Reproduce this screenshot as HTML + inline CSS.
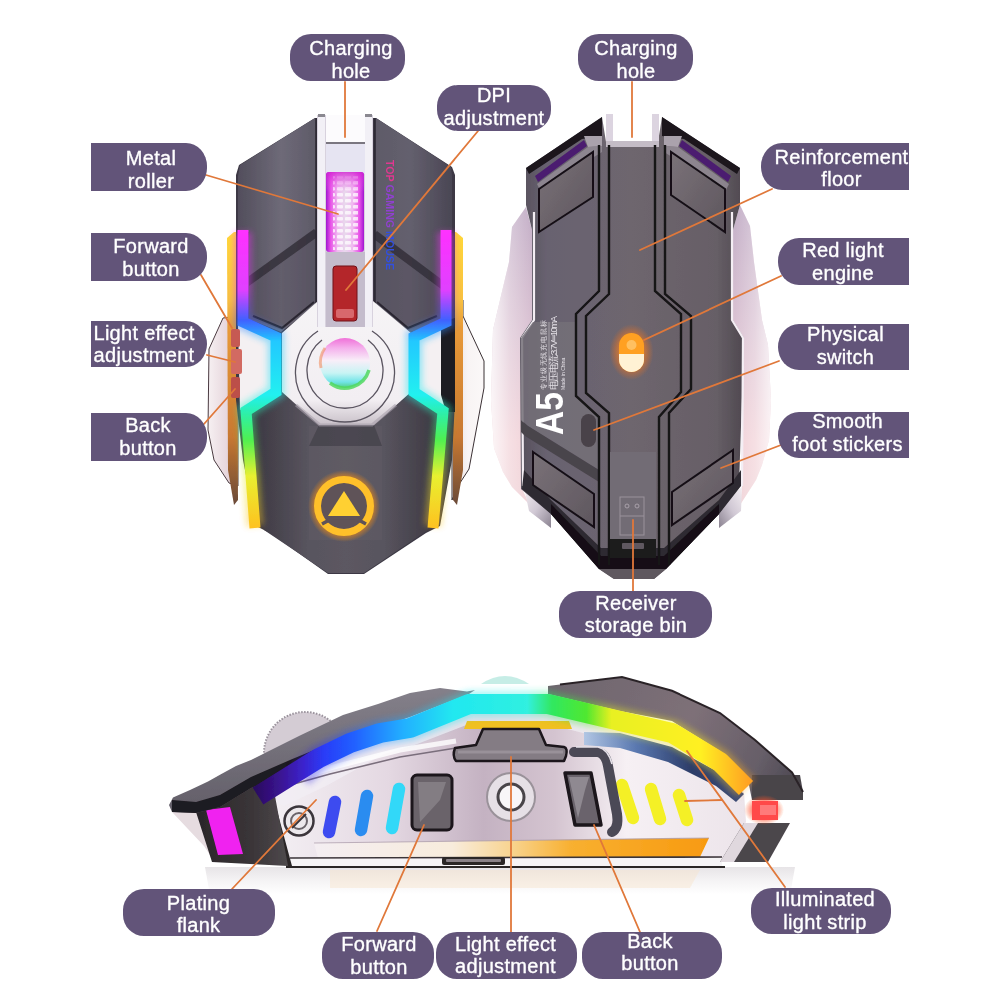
<!DOCTYPE html>
<html><head><meta charset="utf-8">
<style>
html,body{margin:0;padding:0;background:#fff;}
body{width:1001px;height:1001px;position:relative;overflow:hidden;font-family:"Liberation Sans",sans-serif;}
svg{position:absolute;left:0;top:0;}
.lb{position:absolute;background:#625479;}
.tx{position:absolute;width:200px;color:#fff;font-size:20px;line-height:22.5px;text-align:center;white-space:nowrap;letter-spacing:0.3px;-webkit-text-stroke:0.35px #fff;}
.pill{border-radius:21px;}
.rr{border-radius:0 21px 21px 0/0 23px 23px 0;}
.rl{border-radius:21px 0 0 21px/23px 0 0 23px;}
</style></head><body>
<svg width="1001" height="1001" viewBox="0 0 1001 1001">
<!--MICE-->
<defs><filter id="soft" x="-5%" y="-5%" width="110%" height="110%"><feGaussianBlur stdDeviation="0.45"/></filter></defs>
<g filter="url(#soft)">
<!-- ===== MOUSE 1 (top view) ===== -->
<defs>
<linearGradient id="m1flankL" x1="0" y1="0" x2="1" y2="0"><stop offset="0" stop-color="#f6f0f2"/><stop offset="0.6" stop-color="#e8d8de"/><stop offset="1" stop-color="#d4c0c8"/></linearGradient>
<linearGradient id="m1flankR" x1="0" y1="0" x2="1" y2="0"><stop offset="0" stop-color="#e8dcdc"/><stop offset="0.5" stop-color="#f8f4f4"/><stop offset="1" stop-color="#fbf8f8"/></linearGradient>
<linearGradient id="m1panelL" x1="0" y1="0" x2="1" y2="0"><stop offset="0" stop-color="#524e5c"/><stop offset="0.55" stop-color="#6e6a78"/><stop offset="1" stop-color="#5e5a68"/></linearGradient>
<linearGradient id="m1panelR" x1="0" y1="0" x2="1" y2="0"><stop offset="0" stop-color="#5e5a68"/><stop offset="0.45" stop-color="#64606e"/><stop offset="1" stop-color="#4a4654"/></linearGradient>
<linearGradient id="m1palm" x1="0" y1="0" x2="1" y2="0"><stop offset="0" stop-color="#3a3640"/><stop offset="0.3" stop-color="#58545e"/><stop offset="0.5" stop-color="#5c5862"/><stop offset="0.7" stop-color="#58545e"/><stop offset="1" stop-color="#3a3640"/></linearGradient>
<linearGradient id="m1stripL" x1="0" y1="230" x2="0" y2="530" gradientUnits="userSpaceOnUse"><stop offset="0" stop-color="#ff30ff"/><stop offset="0.2" stop-color="#e040ff"/><stop offset="0.3" stop-color="#4060ff"/><stop offset="0.37" stop-color="#20c8ff"/><stop offset="0.55" stop-color="#20f0f0"/><stop offset="0.62" stop-color="#30f0a0"/><stop offset="0.7" stop-color="#50f050"/><stop offset="0.82" stop-color="#e8f030"/><stop offset="1" stop-color="#ffc020"/></linearGradient>
<linearGradient id="m1yel" x1="0" y1="232" x2="0" y2="505" gradientUnits="userSpaceOnUse"><stop offset="0" stop-color="#ffd838"/><stop offset="0.25" stop-color="#f8c040"/><stop offset="0.35" stop-color="#e89a38"/><stop offset="0.75" stop-color="#c87830"/><stop offset="1" stop-color="#6a4a38"/></linearGradient>
<linearGradient id="m1ball" x1="0" y1="0" x2="0" y2="1"><stop offset="0" stop-color="#f070d8"/><stop offset="0.2" stop-color="#f4b0ec"/><stop offset="0.45" stop-color="#f8eef8"/><stop offset="0.7" stop-color="#c8f4f4"/><stop offset="0.88" stop-color="#70e4e8"/><stop offset="1" stop-color="#50d080"/></linearGradient>
<linearGradient id="m1roll" x1="0" y1="0" x2="1" y2="0"><stop offset="0" stop-color="#a018d0"/><stop offset="0.12" stop-color="#e850e8"/><stop offset="0.3" stop-color="#f0b8f0"/><stop offset="0.5" stop-color="#e8d8ec"/><stop offset="0.7" stop-color="#f0b8f0"/><stop offset="0.88" stop-color="#e850e8"/><stop offset="1" stop-color="#a018d0"/></linearGradient>
<pattern id="m1grid" x="0" y="0" width="8" height="6" patternUnits="userSpaceOnUse"><rect x="1" y="1" width="6" height="3.5" rx="1" fill="#ffffff" opacity="0.75"/></pattern>
<linearGradient id="m1rollv" x1="0" y1="0" x2="0" y2="1"><stop offset="0" stop-color="#d020d0" stop-opacity="0.8"/><stop offset="0.25" stop-color="#f060f0" stop-opacity="0"/><stop offset="1" stop-color="#f060f0" stop-opacity="0"/></linearGradient>
<radialGradient id="m1logo" cx="0.5" cy="0.5" r="0.5"><stop offset="0.6" stop-color="#ffb020"/><stop offset="0.85" stop-color="#ff9010"/><stop offset="1" stop-color="#ff9010" stop-opacity="0"/></radialGradient>
<linearGradient id="m1oct" x1="0" y1="0" x2="0" y2="1"><stop offset="0" stop-color="#f6f4f6"/><stop offset="0.8" stop-color="#f2eef2"/><stop offset="1" stop-color="#c8c0c8"/></linearGradient>
</defs>
<!-- flanks -->
<path d="M223,318 L209,349 L208,430 L214,460 L229,483 L238,486 L238,316 Z" fill="url(#m1flankL)" stroke="#4a3a40" stroke-width="1"/>
<path d="M463,300 L463,316 L484,361 L484,388 L469,469 L458,486 L452,500 L452,300 Z" fill="url(#m1flankR)" stroke="#3a3034" stroke-width="1"/>
<!-- yellow side strips -->
<path d="M227,238 L234,232 L237,232 L238,500 L234,505 L228,470 Z" fill="url(#m1yel)"/>
<path d="M453,232 L456,232 L463,238 L463,470 L457,505 L453,500 Z" fill="url(#m1yel)"/>
<!-- body silhouette -->
<path d="M315,118 L239,165 L236,175 L236,400 L243,460 L256,526 L270,533 L328,574 L364,574 L426,533 L440,526 L452,460 L455,400 L455,175 L452,167 L376,118 Z" fill="#3c3844"/>
<!-- palm -->
<path d="M250,410 L282,392 L319,425 L374,425 L412,392 L442,410 L438,480 L428,530 L364,573 L328,573 L264,530 L254,480 Z" fill="url(#m1palm)"/>
<path d="M309,426 L382,426 L382,540 L309,540 Z" fill="#64606a" opacity="0.35"/>
<path d="M319,425 L374,425 L382,446 L309,446 Z" fill="#38343e" opacity="0.5"/>
<!-- left panel -->
<path d="M315,118 L240,165 L238,176 L238,232 L249,232 L249,319 L281,332 L316,305 L316,118 Z" fill="url(#m1panelL)"/>
<path d="M249,276 L314,229 L316,231 L316,238 L249,286 Z" fill="#302c36" opacity="0.8"/><path d="M249,286 L316,238 L316,302 L282,330 L249,318 Z" fill="#4c4856" opacity="0.35"/><path d="M253,316 L282,328 L314,302" fill="none" stroke="#2a2630" stroke-width="2"/>
<path d="M316,118 L316,305" stroke="#2a2630" stroke-width="1.5"/>
<!-- right panel -->
<path d="M376,118 L451,167 L452,176 L452,232 L441,232 L441,321 L408,333 L375,305 L375,118 Z" fill="url(#m1panelR)"/>
<path d="M441,279 L377,231 L375,233 L375,240 L441,289 Z" fill="#302c36" opacity="0.8"/><path d="M441,289 L375,240 L375,302 L408,330 L441,318 Z" fill="#4c4856" opacity="0.35"/><path d="M437,316 L408,328 L377,302" fill="none" stroke="#2a2630" stroke-width="2"/>
<path d="M375,118 L375,305" stroke="#2a2630" stroke-width="1.5"/>
<!-- left/right grip silver -->
<path d="M238,324 L272,338 L272,390 L240,410 Z" fill="#f4f0f2"/>
<path d="M452,324 L418,338 L418,390 L450,410 Z" fill="#f4f0f2"/>
<path d="M441,322 L455,318 L455,412 L446,412 L441,395 Z" fill="#1e1a20"/>
<!-- central silver octagon -->
<path d="M318,301 L282,333 L282,392 L319,425 L374,425 L411,392 L411,333 L373,301 Z" fill="url(#m1oct)"/>
<path d="M318,331 A49.5,49.5 0 1 0 372,331" fill="none" stroke="#5a5460" stroke-width="1.3"/>
<path d="M322,340 A38,38 0 1 0 368,340" fill="none" stroke="#5a5460" stroke-width="1.3"/>
<path d="M296,405 L320,425 L372,425 L396,405" fill="none" stroke="#a8a0ac" stroke-width="3" opacity="0.6"/>
<!-- center strip -->
<rect x="317" y="115" width="56" height="212" fill="#d8d2de"/>
<rect x="326" y="115" width="39" height="28" fill="#fcfbfd"/>
<rect x="318" y="115" width="7" height="212" fill="#f2f0f6"/>
<rect x="365" y="115" width="7" height="212" fill="#f2f0f6"/>
<rect x="318" y="114" width="7" height="3" fill="#8a8890"/>
<rect x="365" y="114" width="7" height="3" fill="#8a8890"/>
<rect x="326" y="142" width="39" height="2" fill="#7a7680"/>
<rect x="326" y="144" width="39" height="30" fill="#e6e4f2"/>
<rect x="326" y="172" width="38" height="80" rx="3" fill="url(#m1roll)"/>
<rect x="333" y="176" width="25" height="74" fill="url(#m1grid)"/>
<rect x="326" y="172" width="38" height="80" rx="3" fill="url(#m1rollv)"/>
<rect x="326" y="252" width="39" height="75" fill="#c4bccc"/>
<rect x="333" y="266" width="24" height="55" rx="3" fill="#b4262c" stroke="#701014" stroke-width="1"/>
<rect x="336" y="309" width="18" height="9" rx="2" fill="#d8686c"/>
<!-- ball -->
<circle cx="345" cy="363" r="25" fill="url(#m1ball)"/>
<path d="M330,383 A25,25 0 0 0 369,370" fill="none" stroke="#50d860" stroke-width="3.5" opacity="0.85"/><path d="M321,368 A25,25 0 0 1 325,348" fill="none" stroke="#f09060" stroke-width="3" opacity="0.6"/>
<!-- RGB strips -->
<filter id="glow1" x="-20%" y="-10%" width="140%" height="120%"><feGaussianBlur stdDeviation="3"/></filter>
<g filter="url(#glow1)" opacity="0.45">
<path d="M243,232 L243,322 L276,337 L276,392 L246,411 L255,526" fill="none" stroke="url(#m1stripL)" stroke-width="17"/>
<path d="M446,232 L446,322 L414,337 L414,392 L443,411 L433,526" fill="none" stroke="url(#m1stripL)" stroke-width="17"/>
</g>
<path d="M243,230 L243,322 L276,337 L276,392 L246,411 L255,528" fill="none" stroke="url(#m1stripL)" stroke-width="11" stroke-linejoin="miter"/>
<path d="M446,230 L446,322 L414,337 L414,392 L443,411 L433,528" fill="none" stroke="url(#m1stripL)" stroke-width="11" stroke-linejoin="miter"/>
<!-- side buttons -->
<rect x="231" y="329" width="9" height="18" rx="2" fill="#c65a52"/>
<rect x="231" y="349" width="11" height="25" rx="2" fill="#d26a62"/>
<rect x="231" y="377" width="9" height="21" rx="2" fill="#bc5048"/>
<!-- logo -->
<circle cx="344" cy="506" r="36" fill="url(#m1logo)" opacity="0.45"/>
<circle cx="344" cy="506" r="23" fill="#5e5258"/>
<circle cx="344" cy="506" r="26.5" fill="none" stroke="#ffc02a" stroke-width="7"/>
<path d="M344,491 L360,516 L328,516 Z" fill="#ffd030"/>
<path d="M322,524 L333,518 L355,518 L366,524" stroke="#5e5258" stroke-width="3.5" fill="none"/>
<!-- TOP GAMING text -->
<text transform="translate(386,160) rotate(90)" font-family="Liberation Sans" font-size="11" font-weight="bold" fill="#e03890" textLength="110" lengthAdjust="spacingAndGlyphs">TOP <tspan fill="#9040d0">GAMING</tspan> <tspan fill="#3050e0">MOUSE</tspan></text>
<!-- ===== MOUSE 2 (bottom view) ===== -->
<defs>
<linearGradient id="m2flankL" x1="490" y1="0" x2="535" y2="0" gradientUnits="userSpaceOnUse"><stop offset="0" stop-color="#f2e4ea"/><stop offset="0.35" stop-color="#e6d0da"/><stop offset="0.8" stop-color="#ccb6ca"/><stop offset="1" stop-color="#b8a4bc"/></linearGradient>
<linearGradient id="m2flankR" x1="732" y1="0" x2="775" y2="0" gradientUnits="userSpaceOnUse"><stop offset="0" stop-color="#b8a4bc"/><stop offset="0.3" stop-color="#ccb8d0"/><stop offset="0.7" stop-color="#e4d2de"/><stop offset="1" stop-color="#f2e6ee"/></linearGradient>
<linearGradient id="m2body" x1="0" y1="0" x2="1" y2="0"><stop offset="0" stop-color="#56505c"/><stop offset="0.12" stop-color="#686270"/><stop offset="0.5" stop-color="#6e666e"/><stop offset="0.88" stop-color="#665e66"/><stop offset="1" stop-color="#4e484f"/></linearGradient>
<linearGradient id="m2low" x1="0" y1="0" x2="1" y2="1"><stop offset="0" stop-color="#f4eef2"/><stop offset="0.5" stop-color="#d0c8d4"/><stop offset="1" stop-color="#8a8290"/></linearGradient>
<linearGradient id="m2lowR" x1="1" y1="0" x2="0" y2="1"><stop offset="0" stop-color="#f4eef2"/><stop offset="0.5" stop-color="#d0c8d4"/><stop offset="1" stop-color="#8a8290"/></linearGradient>
<radialGradient id="m2glow" cx="0.5" cy="0.5" r="0.5"><stop offset="0.4" stop-color="#ff8a20" stop-opacity="0.85"/><stop offset="1" stop-color="#ff6a10" stop-opacity="0"/></radialGradient>
<linearGradient id="m2stick" x1="0" y1="0" x2="1" y2="1"><stop offset="0" stop-color="#7a7278"/><stop offset="1" stop-color="#5e565e"/></linearGradient>
<linearGradient id="m2fv" x1="0" y1="205" x2="0" y2="520" gradientUnits="userSpaceOnUse"><stop offset="0" stop-color="#c4b0c8"/><stop offset="0.4" stop-color="#dcc4d4"/><stop offset="0.75" stop-color="#f2d2d8"/><stop offset="1" stop-color="#f0d4d8"/></linearGradient>
<linearGradient id="m2fwL" x1="490" y1="0" x2="530" y2="0" gradientUnits="userSpaceOnUse"><stop offset="0" stop-color="#ffffff" stop-opacity="0.85"/><stop offset="0.5" stop-color="#ffffff" stop-opacity="0.3"/><stop offset="1" stop-color="#ffffff" stop-opacity="0"/></linearGradient>
<linearGradient id="m2fwR" x1="775" y1="0" x2="735" y2="0" gradientUnits="userSpaceOnUse"><stop offset="0" stop-color="#ffffff" stop-opacity="0.85"/><stop offset="0.5" stop-color="#ffffff" stop-opacity="0.3"/><stop offset="1" stop-color="#ffffff" stop-opacity="0"/></linearGradient>
</defs>
<!-- flanks -->
<path id="m2fl" d="M526,207 L512,227 L509,262 L500,300 L493,330 L491,400 L494,448 L503,472 L512,487 L530,505 L522,489 L520,338 L532,320 L532,230 Z" fill="url(#m2fv)"/>
<path d="M526,207 L512,227 L509,262 L500,300 L493,330 L491,400 L494,448 L503,472 L512,487 L530,505 L522,489 L520,338 L532,320 L532,230 Z" fill="url(#m2fwL)"/>
<path d="M740,205 L750,226 L754,262 L762,320 L768,345 L771,400 L769,440 L762,465 L756,480 L740,505 L742,486 L744,338 L733,320 L733,230 Z" fill="url(#m2fv)"/>
<path d="M740,205 L750,226 L754,262 L762,320 L768,345 L771,400 L769,440 L762,465 L756,480 L740,505 L742,486 L744,338 L733,320 L733,230 Z" fill="url(#m2fwR)"/>
<path d="M524,487 L551,505 L551,528 L529,511 Z" fill="url(#m2low)"/>
<path d="M742,487 L719,505 L719,528 L741,511 Z" fill="url(#m2lowR)"/>
<!-- body -->
<path d="M602,117 L526,168 L526,205 L532,230 L532,320 L520,338 L521,489 L551,514 L599,569 L614,579 L654,579 L666,569 L719,514 L739,485 L744,338 L733,320 L733,230 L740,205 L740,168 L662,117 L658,142 L606,142 Z" fill="url(#m2body)"/>
<path d="M534,212 L534,320 L522,338 L523,486" fill="none" stroke="#f4eef4" stroke-width="2.2"/>
<path d="M732,212 L732,320 L743,338 L742,486" fill="none" stroke="#f4eef4" stroke-width="2.2"/>
<!-- A5 lighter panel -->
<path d="M521,338 L533,322 L575,322 L575,396 L599,417 L599,470 L528,426 L521,420 Z" fill="#747078" opacity="0.85"/>
<path d="M521,420 L528,426 L599,470 L599,482 L525,436 L521,432 Z" fill="#4a444c"/>
<!-- top dark edges with purple -->
<path d="M602,117 L526,168 L529,174 L582,139 L602,136 Z" fill="#1a161c"/>
<path d="M535,176 L584,140 L587,146 L538,182 Z" fill="#4c1c70"/>
<path d="M584,136 L602,136 L602,146 L588,147 Z" fill="#aaa2ac"/>
<path d="M537,184 L588,147 L602,146 L602,152 L540,190 Z" fill="#968e98" opacity="0.8"/>
<path d="M662,117 L740,168 L737,174 L684,139 L662,136 Z" fill="#1a161c"/>
<path d="M731,176 L682,140 L679,146 L728,182 Z" fill="#4c1c70"/>
<path d="M682,136 L664,136 L664,146 L678,147 Z" fill="#aaa2ac"/>
<path d="M729,184 L678,147 L664,146 L664,152 L726,190 Z" fill="#968e98" opacity="0.8"/>
<!-- rails -->
<rect x="606" y="114" width="7" height="32" fill="#dcd4e0"/>
<rect x="652" y="114" width="7" height="32" fill="#dcd4e0"/>
<rect x="606" y="141" width="53" height="6" fill="#c4bcc6"/>
<!-- bottom darker base -->
<path d="M524,470 L551,500 L601,548 L664,548 L719,500 L741,470 L741,486 L719,514 L666,569 L599,569 L551,514 L522,489 Z" fill="#2e2a30"/>
<path d="M551,504 L601,556 L664,556 L719,504 L719,514 L666,569 L599,569 L551,514 Z" fill="#141014"/>
<path d="M599,569 L666,569 L654,579 L614,579 Z" fill="#5e585e"/>
<!-- foot stickers -->
<g fill="url(#m2stick)" stroke="#141016" stroke-width="2">
<path d="M539,189 L593,152 L593,197 L539,232 Z"/>
<path d="M725,189 L671,152 L671,195 L725,232 Z"/>
<path d="M533,452 L594,494 L594,527 L533,485 Z"/>
<path d="M733,450 L672,492 L672,525 L733,483 Z"/>
</g>
<!-- center plate double grooves -->
<g fill="none" stroke="#161216" stroke-width="2.4" stroke-linejoin="miter">
<path d="M599,145 L599,291 L576,314 L576,396 L599,417 L599,565"/>
<path d="M609,145 L609,294 L586,316 L586,393 L609,413 L609,565"/>
<path d="M655,145 L655,291 L681,314 L681,392 L659,417 L659,565"/>
<path d="M665,145 L665,294 L691,316 L691,389 L669,413 L669,565"/>
</g>
<!-- receiver bin -->
<rect x="610" y="452" width="46" height="87" fill="#726c74"/>
<rect x="620" y="497" width="24" height="38" fill="none" stroke="#9a929c" stroke-width="1"/>
<line x1="620" y1="516" x2="644" y2="516" stroke="#9a929c" stroke-width="1"/>
<circle cx="627" cy="506" r="2" fill="none" stroke="#a8a0aa" stroke-width="1"/><circle cx="637" cy="506" r="2" fill="none" stroke="#a8a0aa" stroke-width="1"/>
<path d="M610,539 L656,539 L656,558 L610,558 Z" fill="#1e1a1e"/>
<rect x="622" y="543" width="22" height="6" rx="1" fill="#5e5860"/>
<!-- switch -->
<rect x="581" y="414" width="15" height="33" rx="7.5" fill="#4a4248"/>
<!-- orange light -->
<ellipse cx="631.5" cy="352" rx="22" ry="28" fill="url(#m2glow)"/>
<rect x="619" y="333" width="25" height="39" rx="12.5" fill="#ffa020"/>
<path d="M619,354 L644,354 L644,359.5 A12.5,12.5 0 0 1 619,359.5 Z" fill="#fff2d4"/>
<circle cx="631.5" cy="345" r="5" fill="#ffc060"/>
<!-- A5 text -->
<text transform="translate(563,435) rotate(-90) scale(0.86,1)" font-family="Liberation Sans" font-weight="bold" font-size="39" fill="#ffffff">A5</text>
<g fill="#e4e0e6" font-family="Liberation Sans">
<text transform="translate(546,390) rotate(-90)" font-size="7" textLength="70">专业级无线充电鼠标</text>
<text transform="translate(557,390) rotate(-90)" font-size="9.5" textLength="74">电压电流:3.7V═10mA</text>
<text transform="translate(565,390) rotate(-90)" font-size="5">Made in China</text>
</g>
<line x1="549" y1="388" x2="549" y2="322" stroke="#c8c4ca" stroke-width="0.6"/>
<!-- ===== MOUSE 3 (side view) ===== -->
<defs>
<linearGradient id="m3shell" x1="0" y1="0" x2="0" y2="1"><stop offset="0" stop-color="#84808a"/><stop offset="1" stop-color="#625e68"/></linearGradient>
<linearGradient id="m3shellR" x1="560" y1="680" x2="800" y2="800" gradientUnits="userSpaceOnUse"><stop offset="0" stop-color="#6e666e"/><stop offset="0.5" stop-color="#7e7078"/><stop offset="0.8" stop-color="#665e68"/><stop offset="1" stop-color="#46424c"/></linearGradient>
<linearGradient id="m3strip" x1="255" y1="0" x2="750" y2="0" gradientUnits="userSpaceOnUse"><stop offset="0" stop-color="#2a0a60"/><stop offset="0.05" stop-color="#3a1490"/><stop offset="0.1" stop-color="#3a24d0"/><stop offset="0.14" stop-color="#2a3cf8"/><stop offset="0.2" stop-color="#2060ff"/><stop offset="0.3" stop-color="#20b0ff"/><stop offset="0.4" stop-color="#20e8f0"/><stop offset="0.55" stop-color="#30f0e0"/><stop offset="0.6" stop-color="#30e860"/><stop offset="0.67" stop-color="#50e830"/><stop offset="0.72" stop-color="#e8f020"/><stop offset="0.9" stop-color="#fff020"/><stop offset="1" stop-color="#ffa020"/></linearGradient>
<linearGradient id="m3chrome" x1="270" y1="0" x2="745" y2="0" gradientUnits="userSpaceOnUse"><stop offset="0" stop-color="#f4f0f4"/><stop offset="0.25" stop-color="#e4d8e2"/><stop offset="0.45" stop-color="#c4b2c2"/><stop offset="0.6" stop-color="#d4c4d0"/><stop offset="0.75" stop-color="#f6f0f4"/><stop offset="1" stop-color="#ece4ea"/></linearGradient>
<linearGradient id="m3orange" x1="314" y1="0" x2="709" y2="0" gradientUnits="userSpaceOnUse"><stop offset="0" stop-color="#f4eef2"/><stop offset="0.35" stop-color="#f8ecdc"/><stop offset="0.5" stop-color="#f8d490"/><stop offset="0.65" stop-color="#f8b030"/><stop offset="1" stop-color="#f89a10"/></linearGradient>
<linearGradient id="m3refl" x1="0" y1="0" x2="0" y2="1"><stop offset="0" stop-color="#dcd8dc"/><stop offset="0.5" stop-color="#f0eef0"/><stop offset="1" stop-color="#ffffff"/></linearGradient>
<radialGradient id="m3red" cx="0.5" cy="0.5" r="0.5"><stop offset="0.35" stop-color="#ff3838"/><stop offset="1" stop-color="#ff6020" stop-opacity="0"/></radialGradient>
<linearGradient id="m3blueband" x1="580" y1="0" x2="740" y2="0" gradientUnits="userSpaceOnUse"><stop offset="0" stop-color="#b8cce8"/><stop offset="0.35" stop-color="#5a78b0"/><stop offset="0.7" stop-color="#2c3c68"/><stop offset="1" stop-color="#3a4a78"/></linearGradient>
<linearGradient id="m3block" x1="0" y1="0" x2="1" y2="0"><stop offset="0" stop-color="#2a2629"/><stop offset="0.6" stop-color="#3a3538"/><stop offset="1" stop-color="#4e494c"/></linearGradient>
</defs>
<!-- reflection -->
<path d="M205,867 L795,867 L790,895 L210,895 Z" fill="url(#m3refl)" opacity="0.7"/>
<path d="M330,870 L700,870 L690,888 L330,888 Z" fill="#f8e4cc" opacity="0.45"/>
<!-- scroll wheel -->
<circle cx="305" cy="753" r="41" fill="#d4ccd4" stroke="#9a929c" stroke-width="2" stroke-dasharray="1.5 1.5"/>
<!-- left flank base -->
<path d="M172,812 L198,812 L212,858 L204,846 Z" fill="#e6dce0"/>
<!-- chrome body -->
<path d="M264,796 L290,780 L319,762 L350,748 L380,738 L410,732 L469,708 L548,708 L620,726 L672,738 L720,766 L744,792 L746,822 L722,861 L288,866 Z" fill="url(#m3chrome)"/>
<path d="M264,796 L290,780 L319,762 L350,748 L380,738 L410,732 L469,708 L548,708 L620,726 L672,738 L720,766 L744,792 L736,800 L712,780 L666,754 L618,742 L548,724 L469,724 L412,746 L384,754 L326,786 L284,806 Z" fill="#f2eef4" opacity="0.75"/>
<path d="M272,790 L330,774 L400,757 L456,748" fill="none" stroke="#7a6e7c" stroke-width="1.6"/>
<path d="M268,788 L330,768 L400,750 L456,741" fill="none" stroke="#ffffff" stroke-width="5" opacity="0.8"/>
<!-- blue chrome band under yellow -->
<path d="M584,732 L620,733 L672,747 L720,773 L744,794 L736,802 L716,786 L668,762 L620,748 L584,745 Z" fill="url(#m3blueband)"/>
<!-- yellow band under strip (middle) -->
<path d="M467,721 L569,721 L572,729 L464,729 Z" fill="#f0c020"/>
<!-- orange reflection bottom -->
<path d="M314,843 L709,838 L700,857 L318,858 Z" fill="url(#m3orange)"/>
<path d="M314,843 L709,838" stroke="#a898a8" stroke-width="1.2" opacity="0.7"/>
<path d="M290,858 L722,857" stroke="#3a3438" stroke-width="1.6"/>
<path d="M290,859 L722,858 L722,866 L290,866 Z" fill="#f6f4f6"/>
<path d="M286,867 L725,867" stroke="#2a2628" stroke-width="1.8"/>
<rect x="442" y="857" width="63" height="8" rx="2" fill="#2a2628"/>
<rect x="446" y="859" width="55" height="3" rx="1" fill="#8a8288"/>
<!-- chrome left bevel -->
<path d="M266,793 L272,792 L292,866 L286,866 Z" fill="#2a2628"/>
<!-- dark rear block -->
<path d="M196,812 L220,805 L251,787 L272,780 L288,866 L212,862 Z" fill="url(#m3block)"/>
<path d="M206,810 L230,807 L243,854 L218,855 Z" fill="#f020f0"/>
<!-- shell -->
<path d="M169,805 L173,797.6 L190,790 L208,781.4 L220,774.8 L236,766 L251,760 L263,754 L300,735.5 L343,715 L378,704 L410,693 L440,688 L467,691.5 L475,690 L469,694 L410,717 L378,728 L346,741 L319,750 L280,776 L251,788 L220,807 L196,813 L172,812 Z" fill="url(#m3shell)"/>
<path d="M172,800 L196,802 L220,795 L251,777 L290,760 L319,748 L319,752 L280,776 L251,788 L220,807 L196,813 L172,812 Z" fill="#1e1a20"/>
<path d="M548,686 L560,684.4 L622,677 L672,690.8 L720,713 L755,740 L792,772.5 L803,792 L803,800 L752,800 L748,780 L720,751 L672,721 L620,711 L548,694 Z" fill="url(#m3shellR)"/>
<path d="M752,775 L800,775 L803,792 L803,800 L752,800 Z" fill="#4a444a"/>
<path d="M560,684.4 L622,677 L672,690.8 L720,713 L755,740 L792,772.5 L803,792" fill="none" stroke="#2a2428" stroke-width="2"/>
<!-- RGB strip -->
<filter id="glow3" x="-10%" y="-30%" width="120%" height="160%"><feGaussianBlur stdDeviation="3"/></filter>
<path d="M300,775 L319,758 L350,743 L380,733 L410,728 L469,704 L548,704 L620,721 L672,733 L720,762 L746,788" fill="none" stroke="url(#m3strip)" stroke-width="26" stroke-linejoin="round" opacity="0.4" filter="url(#glow3)"/>
<path d="M258,796 L290,776 L319,758 L350,743 L380,733 L410,728 L469,704 L548,704 L620,721 L672,733 L720,762 L746,788" fill="none" stroke="url(#m3strip)" stroke-width="20" stroke-linejoin="round"/>
<!-- front blocks -->
<path d="M744,823 L790,823 L768,862 L720,862 Z" fill="#4c464c"/>
<path d="M744,823 L758,823 L734,862 L720,862 Z" fill="#e0d8de"/>
<ellipse cx="764" cy="810" rx="20" ry="15" fill="url(#m3red)"/>
<rect x="752" y="801" width="26" height="19" fill="#ff4848"/>
<rect x="760" y="805" width="16" height="10" fill="#ff9090" opacity="0.7"/>
<!-- light pills -->
<g stroke-linecap="round" stroke-width="12.5">
<line x1="335" y1="802" x2="329" y2="832" stroke="#3c4cf0"/>
<line x1="367" y1="796" x2="361" y2="830" stroke="#2a8cf0"/>
<line x1="399" y1="789" x2="392" y2="828" stroke="#30d8f8"/>
<line x1="622" y1="785" x2="633" y2="818" stroke="#f4f028"/>
<line x1="651" y1="789" x2="660" y2="819" stroke="#f4f028"/>
<line x1="679" y1="795" x2="687" y2="820" stroke="#f4f028"/>
</g>
<!-- screw -->
<circle cx="299" cy="821" r="14.5" fill="#ece8ec" stroke="#3a343a" stroke-width="2.5"/>
<circle cx="299" cy="821" r="8" fill="none" stroke="#6a646a" stroke-width="2"/>
<path d="M292,828 L306,814" stroke="#3a343a" stroke-width="2"/>
<!-- side buttons -->
<rect x="412" y="775" width="40" height="55" rx="5" fill="#6a646a" stroke="#1a161a" stroke-width="3"/>
<path d="M418,782 L446,782 L440,800 L420,822 Z" fill="#8e888e" opacity="0.7"/>
<path d="M565,773 L591,773 L601,825 L575,825 Z" fill="#6a646c" stroke="#1a161a" stroke-width="3.5" stroke-linejoin="round"/>
<path d="M569,777 L589,777 L585,790 L578,818 Z" fill="#a8a2aa" opacity="0.6"/>
<path d="M574,752 L598,752 Q606,754 608,766 L617,814 Q619,828 612,832" fill="none" stroke="#4c4856" stroke-width="10" stroke-linejoin="round" stroke-linecap="round"/><path d="M576,747 L598,747 Q608,749 612,764" fill="none" stroke="#e4e0e8" stroke-width="1.6"/>
<!-- center light button -->
<circle cx="511" cy="797" r="24" fill="#e6e0e6" stroke="#9a929a" stroke-width="2"/>
<circle cx="511" cy="797" r="13" fill="#f8f6f8" stroke="#4a444a" stroke-width="3"/>
<!-- DPI top -->
<path d="M483,729 L539,729 L546,745 L564,747 Q568,748 566,756 L564,761 L456,761 Q452,756 455,748 L476,745 Z" fill="#847c84" stroke="#1a161a" stroke-width="2.5" stroke-linejoin="round"/>
<path d="M458,752 L563,752" stroke="#a8a0a8" stroke-width="3" opacity="0.6"/>
<!-- top light ball -->
<path d="M481,684 Q505,668 529,684 Z" fill="#b8e8e0" opacity="0.8"/>
</g>
<!--LINES-->
<g stroke="#e0783a" stroke-width="1.8" fill="none" stroke-linecap="round">
<line x1="345" y1="82" x2="345" y2="137"/>
<line x1="478" y1="131" x2="346" y2="290"/>
<line x1="206" y1="175" x2="338" y2="214"/>
<line x1="201" y1="275" x2="232" y2="328"/>
<line x1="207" y1="355" x2="235" y2="362"/>
<line x1="204" y1="424" x2="235" y2="389"/>
<line x1="632" y1="82" x2="632" y2="137"/>
<line x1="772" y1="189" x2="640" y2="250"/>
<line x1="781" y1="276" x2="644" y2="340"/>
<line x1="779" y1="361" x2="594" y2="430"/>
<line x1="781" y1="445" x2="721" y2="468"/>
<line x1="633" y1="520" x2="633" y2="591"/>
<line x1="232" y1="889" x2="316" y2="800"/>
<line x1="377" y1="931" x2="424" y2="825"/>
<line x1="511" y1="757" x2="511" y2="932"/>
<line x1="640" y1="932" x2="594" y2="825"/>
<line x1="785" y1="887" x2="687" y2="751"/>
<line x1="722" y1="800" x2="685" y2="801"/>
</g>
</svg>
<div class="lb pill" style="left:290px;top:33.8px;width:114.5px;height:47.4px;"><div class="tx" style="left:-39.0px;top:3.4px;">Charging<br>hole</div></div>
<div class="lb pill" style="left:436.5px;top:85.2px;width:114.9px;height:46.1px;"><div class="tx" style="left:-42.5px;top:-0.8px;">DPI<br>adjustment</div></div>
<div class="lb rr" style="left:91px;top:143.2px;width:116.0px;height:47.4px;"><div class="tx" style="left:-40.0px;top:4.0px;">Metal<br>roller</div></div>
<div class="lb rr" style="left:91px;top:233.2px;width:116.0px;height:47.4px;"><div class="tx" style="left:-40.0px;top:2.1px;">Forward<br>button</div></div>
<div class="lb rr" style="left:91px;top:321.2px;width:116.0px;height:46.1px;"><div class="tx" style="left:-47.0px;top:0.8px;">Light effect<br>adjustment</div></div>
<div class="lb rr" style="left:91px;top:413.2px;width:116.0px;height:47.4px;"><div class="tx" style="left:-43.0px;top:1.0px;">Back<br>button</div></div>
<div class="lb pill" style="left:577.8px;top:33.8px;width:115.6px;height:47.4px;"><div class="tx" style="left:-41.8px;top:3.4px;">Charging<br>hole</div></div>
<div class="lb rl" style="left:760.6px;top:143.4px;width:148.4px;height:46.6px;"><div class="tx" style="left:-19.1px;top:2.6px;">Reinforcement<br>floor</div></div>
<div class="lb rl" style="left:778.4px;top:238.1px;width:130.6px;height:46.5px;"><div class="tx" style="left:-35.4px;top:1.1px;">Red light<br>engine</div></div>
<div class="lb rl" style="left:778.4px;top:324.1px;width:130.6px;height:46.3px;"><div class="tx" style="left:-32.9px;top:-1.0px;">Physical<br>switch</div></div>
<div class="lb rl" style="left:778.4px;top:411.6px;width:130.6px;height:46.7px;"><div class="tx" style="left:-30.9px;top:-1.2px;">Smooth<br>foot stickers</div></div>
<div class="lb pill" style="left:558.6px;top:591.3px;width:153.3px;height:46.5px;"><div class="tx" style="left:-22.6px;top:0.7px;">Receiver<br>storage bin</div></div>
<div class="lb pill" style="left:123.2px;top:889.3px;width:151.7px;height:46.4px;"><div class="tx" style="left:-24.7px;top:2.7px;">Plating<br>flank</div></div>
<div class="lb pill" style="left:321.6px;top:932.1px;width:112.6px;height:47.0px;"><div class="tx" style="left:-42.6px;top:1.3px;">Forward<br>button</div></div>
<div class="lb pill" style="left:436.3px;top:932.3px;width:140.4px;height:46.9px;"><div class="tx" style="left:-30.8px;top:0.3px;">Light effect<br>adjustment</div></div>
<div class="lb pill" style="left:582.2px;top:932.3px;width:140.0px;height:46.9px;"><div class="tx" style="left:-32.2px;top:-2.7px;">Back<br>button</div></div>
<div class="lb pill" style="left:751.2px;top:888.2px;width:140.2px;height:46.0px;"><div class="tx" style="left:-26.2px;top:-0.1px;">Illuminated<br>light strip</div></div>
</body></html>
